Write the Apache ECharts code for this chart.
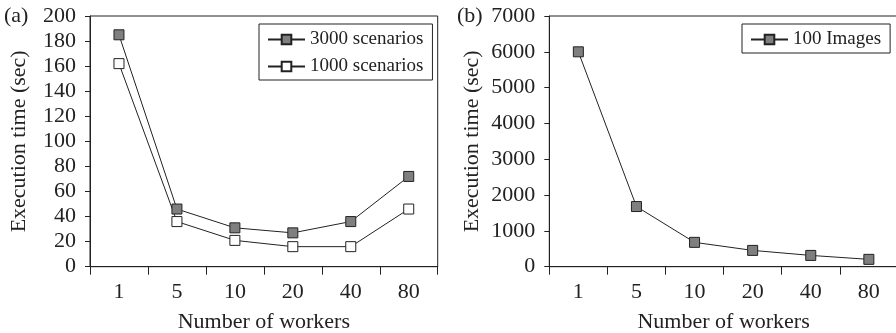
<!DOCTYPE html>
<html>
<head>
<meta charset="utf-8">
<script src="https://cdn.jsdelivr.net/npm/echarts@6/dist/echarts.min.js"></script>
<style>html,body{margin:0;padding:0;background:#fff;}#c{width:896px;height:333px;}</style>
</head>
<body>
<div id="c"></div>
<script>
const categories = ['1', '5', '10', '20', '40', '80'];
const scen3000 = [185, 46, 31, 27, 36, 72];
const scen1000 = [162, 36, 21, 16, 16, 46];
const images100 = [6000, 1680, 680, 455, 315, 205];

const FONT = 'Liberation Serif';
const FS = 22;
const INK = '#222';
const chart = echarts.init(document.getElementById('c'));

function xAxis(gridIndex) {
  return {
    type: 'category', gridIndex, data: categories, boundaryGap: true,
    name: 'Number of workers', nameLocation: 'middle', nameGap: 45,
    nameTextStyle: { fontFamily: FONT, fontSize: FS, color: INK },
    axisLine: { lineStyle: { color: INK, width: 1 } },
    axisTick: { show: true, length: 8, lineStyle: { color: INK } },
    axisLabel: { fontFamily: FONT, fontSize: FS, color: INK, margin: 15 },
    splitLine: { show: false }
  };
}
function yAxis(gridIndex, max, interval, gap) {
  return {
    type: 'value', gridIndex, min: 0, max, interval,
    name: 'Execution time (sec)', nameLocation: 'middle', nameGap: gap, nameRotate: 90,
    nameTextStyle: { fontFamily: FONT, fontSize: FS, color: INK },
    axisLine: { show: true, lineStyle: { color: INK, width: 1 } },
    axisTick: { show: true, length: 5, lineStyle: { color: INK } },
    axisLabel: { fontFamily: FONT, fontSize: FS, color: INK, margin: 14, formatter: v => String(v) },
    splitLine: { show: false }
  };
}
function legend(left, names) {
  return {
    left, top: 24, orient: 'vertical', data: names,
    itemWidth: 37, itemHeight: 12, itemGap: 8,
    padding: [6, 9, 4, 8],
    borderColor: INK, borderWidth: 1, backgroundColor: '#fff',
    textStyle: { fontFamily: FONT, fontSize: 19, color: INK },
    selectedMode: false
  };
}
function line(name, data, xi, fill) {
  return {
    name, type: 'line', xAxisIndex: xi, yAxisIndex: xi, data,
    symbol: 'rect', symbolSize: 10, showSymbol: true,
    lineStyle: { color: INK, width: 1 },
    itemStyle: { color: fill, borderColor: INK, borderWidth: 1 },
    animation: false
  };
}

chart.setOption({
  animation: false,
  title: [
    { text: '(a)', left: 4, top: 5, padding: 0, textStyle: { fontFamily: FONT, fontSize: FS, fontWeight: 'normal', color: INK } },
    { text: '(b)', left: 457, top: 5, padding: 0, textStyle: { fontFamily: FONT, fontSize: FS, fontWeight: 'normal', color: INK } }
  ],
  grid: [
    { left: 90, top: 16, width: 347.7, height: 250.7, show: true, borderColor: INK, borderWidth: 1, backgroundColor: 'transparent', containLabel: false, outerBoundsMode: 'none' },
    { left: 549.3, top: 16, width: 348.6, height: 250.7, show: true, borderColor: INK, borderWidth: 1, backgroundColor: 'transparent', containLabel: false, outerBoundsMode: 'none' }
  ],
  xAxis: [xAxis(0), xAxis(1)],
  yAxis: [yAxis(0, 200, 20, 60), yAxis(1, 7000, 1000, 66)],
  legend: [legend(259, ['3000 scenarios', '1000 scenarios']), legend(742, ['100 Images'])],
  series: [
    line('3000 scenarios', scen3000, 0, '#7f7f7f'),
    line('1000 scenarios', scen1000, 0, '#ffffff'),
    line('100 Images', images100, 1, '#7f7f7f')
  ]
});
</script>
</body>
</html>
